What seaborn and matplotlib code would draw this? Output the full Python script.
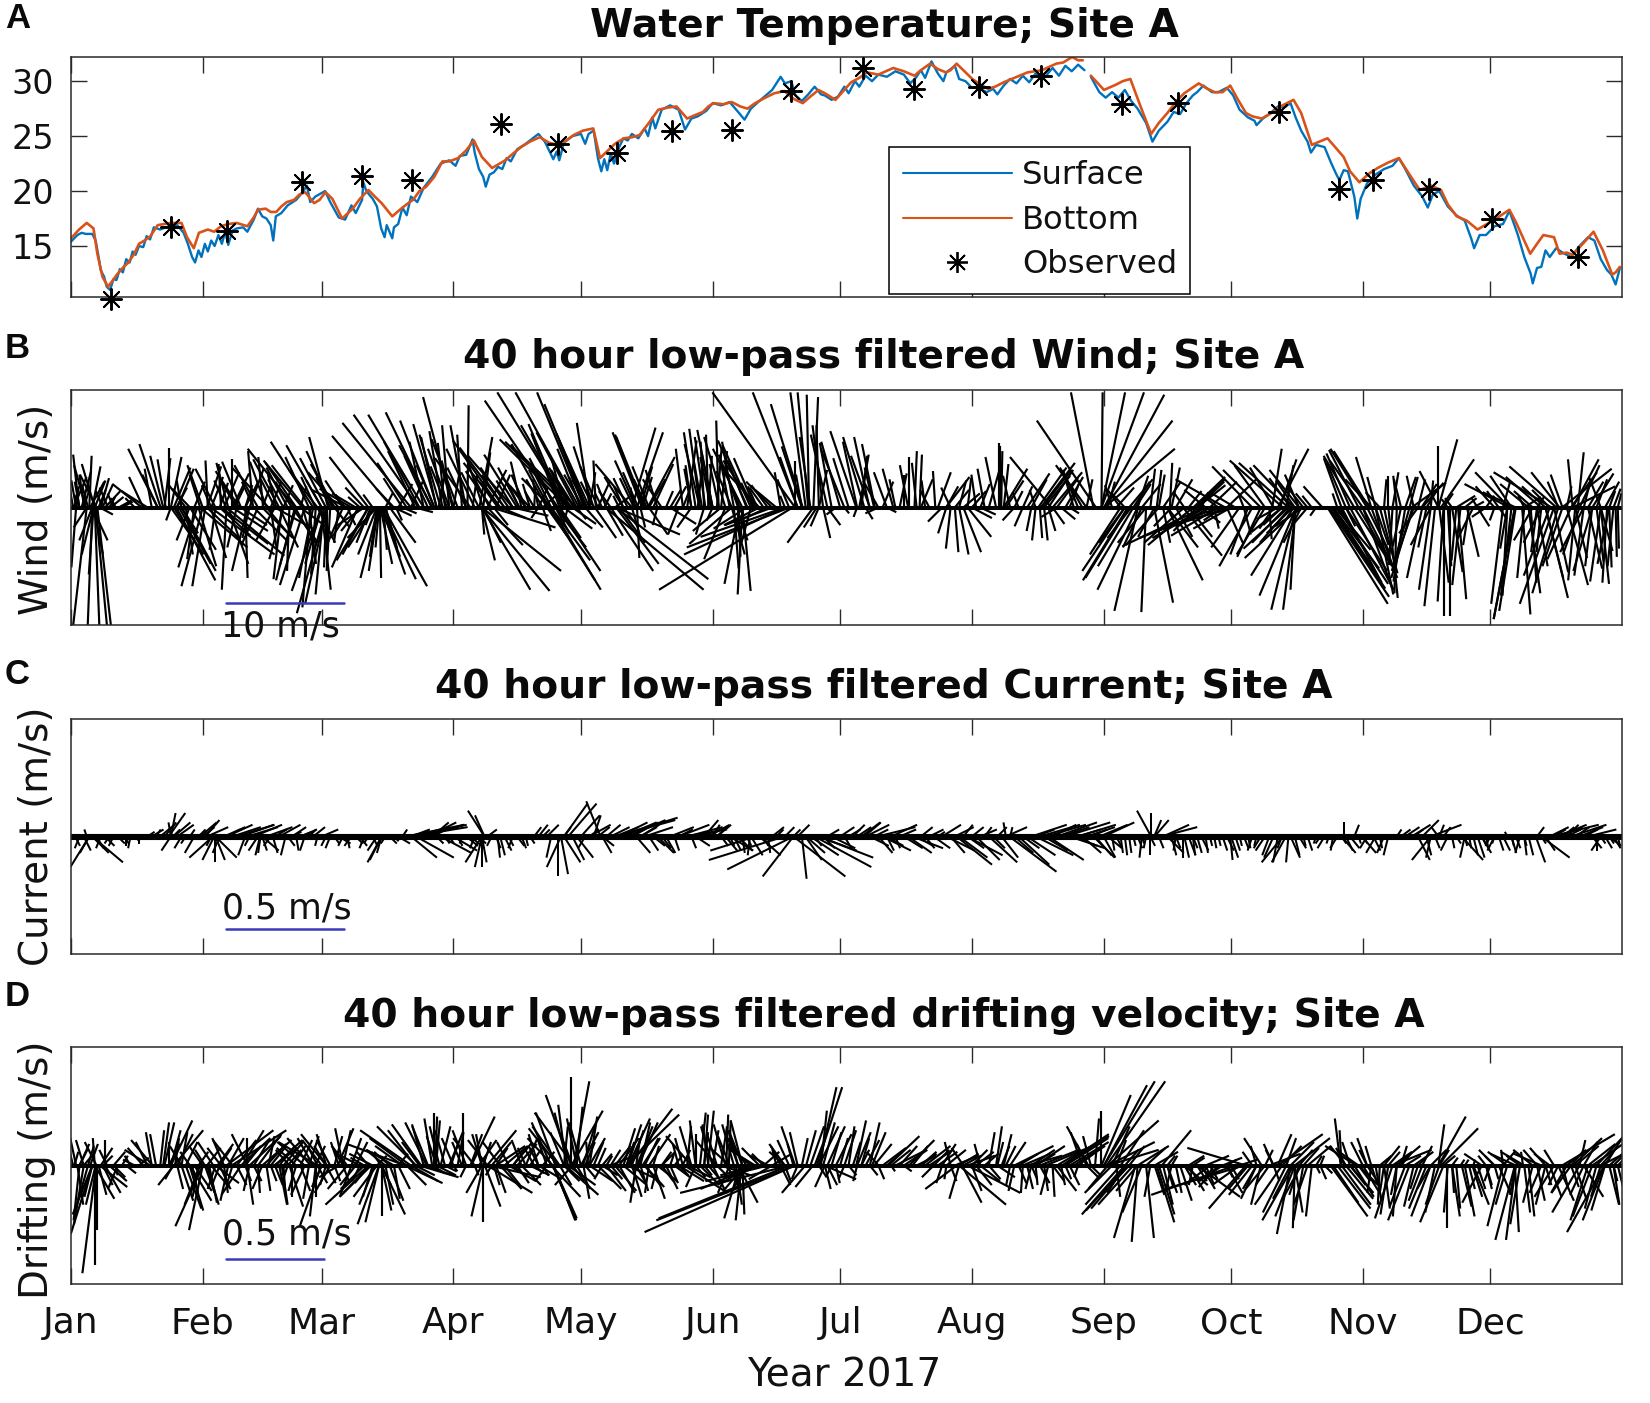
import numpy as np
import pandas as pd
import matplotlib
matplotlib.use("Agg")
import matplotlib.pyplot as plt
from matplotlib.collections import LineCollection
from matplotlib.lines import Line2D
import seaborn as sns

month_ticks = [0, 31, 59, 90, 120, 151, 181, 212, 243, 273, 304, 334]
month_labels = ["Jan", "Feb", "Mar", "Apr", "May", "Jun", "Jul", "Aug", "Sep", "Oct", "Nov", "Dec"]

bottom_day = [0,1.9,3.7,5.3,6.2,7.4,8.7,9.9,12.4,14.9,17.3,20.4,23.5,26,27.3,28.9,30.1,32.2,35.3,39,41.5,44,45.8,48.3,50.8,55.1,57.2,59.9,63.8,66.3,70,73.1,75.6,77.4,80.5,83.6,87.4,91.1,94.8,96.7,99.1,102.2,105.9,110.3,114.6,118.3,122.9,124.5,126.4,130.1,133.8,138.2,142.5,145,148.7,151.2,155.5,159.2,162.9,167.9,172.2,175.9,
              177.4,179.9,183.6,187.3,193.5,198.5,202.2,205.9,208.4,212.1,215.8,219.5,225.1,231.9,235.6,238.1,
              240,243.1,249.3,251.7,254.2,258,260.4,265.4,269.1,272.8,276.5,280.2,284.6,287.7,289.5,292,295.7,299.5,303.2,307.5,312.5,317.4,322.4,326.1,331,338.5,343.4,346.5,349,350.3,353.4,358.3,362.7,364.5]
bottom_temp = [15.7,16.5,17.1,16.6,14.3,12.2,11.3,11.9,13.1,14.3,15.5,16.9,17.1,17.1,15.8,14.8,16.2,16.5,16.8,17.1,16.8,18.3,18.4,18.1,19,19.9,18.9,19.9,17.5,18.4,20.1,18.9,17.7,18.3,19.2,20.4,22.7,23,24.6,23.1,22.1,22.8,24,24.9,24.2,25.1,25.7,23,23.7,24.8,25.1,27.4,27.7,26.6,27.2,28,28.1,27.5,28.4,29.1,28,29.2,
               28.9,28.3,29.9,30.8,31.2,30.5,31.6,30.8,31.6,30.2,29.3,29.9,30.8,31.6,32.2,31.9,
               30.5,29.2,30.2,27.7,25.2,27.1,28.3,29.8,29,29.6,27.1,26.6,27.7,28.3,27.1,24.2,24.8,23.1,20.8,22.1,23,20.1,20.1,17.7,16.5,18.3,14.3,16,15.8,14.3,14.2,16.3,12.4,13.1]
bottom_day += [10.8,13.5,16,18.7,33.7,37,43,47,49.5,52.5,53.8,58.5,61.5,68,71.5,79,82,85.5,89,93,104,108,112.5,116.5,120.5,128,132,136,140.5,146.8,150,153.5,157.5,161,165.5,170,174,181.5,185.5,190,196,200,204,207,210,214,217.5,222,228.5,233.5,237,246,247.5,256,262,267,271,274.5,278,282.5,293.8,297.5,301,305.5,310,315,320,324,328.5,335,340,345,352,356,360.5,363.5]
bottom_temp += [12.4,13.5,15.2,15.9,16.3,17,17.6,18.1,18.6,19.2,19.7,19.2,19.3,19.3,19.5,18.8,20,21.3,22.7,23.7,23.4,24.5,24.4,24.6,25.5,24.3,24.9,26.2,27.6,26.9,27.7,27.9,27.7,28,28.9,28.4,28.6,29,30.3,30.6,30.9,31,31.1,31,31,29.7,29.5,30.3,31,31.7,31.9,29.7,30,26.2,28.9,29.4,29,28.4,26.8,27.1,24.5,24,21.8,21.6,22.6,21.5,20.5,18.8,17.3,17.4,17.2,15.2,14.4,15.3,14.6,12.6]
surface_day = [0,1.5,2.5,3.5,5,5.8,6.5,7,7.8,8.4,9.2,10,10.7,11.5,12.2,13,13.8,14.5,15.2,16,17,17.8,18.6,19.5,21,23,25,26.5,27.5,28.5,29.2,30,30.7,31.5,32.2,33,33.8,34.7,35.5,36.3,37,38,39,40.5,41.5,43,44,45,46,47,47.6,48.2,49.5,51,53,54.5,55.5,56.3,57.5,59.8,61,63,64.5,66,67,68.5,68.8,69.5,71,72,73,73.8,74.3,75.6,76,77,78,79,80,81.5,83,85,87,89,90.5,91.5,93,94.5,95,96,97,97.6,98.5,99.5,100.5,101.5,102.5,103.5,105,107,110,111.5,112.5,113.5,114.3,114.9,116,118,120,121,121.8,123,124,124.8,125.5,126.2,127,127.8,129,130,131,132,133.5,135,135.8,136.8,137.5,139,141,143,144.5,146,147.5,149.5,151,153,155,157,158.5,160,162,165,167,168,169.5,170.5,172,173.5,175,176.5,
               177.4,179,180.5,182,183,184.5,185.5,187,188.5,190,192,194,196,197.5,198.8,200,201,202.5,204,205.3,206,208,209,210.5,212,213.5,215.5,217,218,219.5,221,222.5,224,225.5,227,229,231,232.5,234,235.5,237,238.5,
               240,242,243.5,245,246.5,248,249.5,251,253,254.5,256,258,259.5,261,262.5,264,265,266.5,268.5,270,272,273.5,275,277,278.5,279,280.5,282,284,285.5,287,288.2,289.5,291,291.8,293,295,296.5,297.8,298.5,299.5,300.5,302,302.7,303.5,305,307,309,311,312.5,314,316,318,319.3,320.5,322,324,326,328,329.5,330.2,331.5,333,335,337,338.5,340.5,342,343.5,344,345,346,347,348,349.5,351,353,355,357,358.5,360,361.5,362.5,363.5,364.5]
surface_temp = [15.4,16,16.2,16.1,16.1,15.5,14,12.8,12.2,11.3,11,12,11.9,12.9,12.6,13.8,13.5,14.5,14.2,15,14.9,15.9,15.6,16.7,16.5,16.8,16.9,16.2,15.2,14,13.5,14.6,14,15.2,14.5,15.5,15,16,15.2,16.3,15.1,16.4,16.6,16.7,16.3,17.4,18.4,17.7,17.5,16.9,15.5,17.7,18,18.7,19.2,19.9,20.5,19,19.5,20,19,17.6,17.4,18.7,18,19.2,20.8,20,19.3,18.6,16.6,15.8,16.9,15.7,16.7,17,18.5,17.8,19.5,19,20.3,21.3,22.5,22.8,22.3,23.2,23.3,24.7,23.5,22,21.3,20.4,21.5,21.7,22.2,22,23,22.7,23.8,24.3,25.2,24.5,23.7,22.9,23.6,22.8,24.4,25,25.2,24.3,25.2,25.5,23,21.8,22.9,21.9,23.4,22.5,24,24.8,24.6,25.2,24.8,25.7,25,26.7,25.7,27.4,27.8,27.4,25.6,26.6,26.8,27.3,28,27.8,28.1,27.2,26.5,27.5,28.2,29.2,30.4,29.8,30,28.7,28.2,28.8,29.5,28.8,
                28.7,28.3,28.6,29.5,28.9,30,29.5,30.5,30,30.6,30.4,30.9,30.6,29.8,30.3,31,30.3,31.8,30.7,30,30.8,31.4,30.2,30,29.4,29.4,29,29.3,28.8,29.6,30.2,29.8,30.5,29.9,30.7,30.3,31.2,30.5,31.4,30.9,31.5,31,
                30.4,29,28.5,29,28.5,29.2,28.2,27.5,26.2,24.5,25.5,26.3,27.2,27,28,28.7,29,29.6,29,29,29.4,28.7,27.4,26.7,26.4,26,26.6,27,27.7,27.6,28,26.7,25.5,24.5,23.5,24.2,24,22.6,21.5,21,21.9,21.8,19.5,17.5,19.3,20.7,21.5,22,22.3,23,22,20.5,19.5,18.5,19.7,20,18.6,17.8,17.3,15.7,14.8,16,16,16.8,17,18.2,16,14,12.5,11.6,13,13.1,14.6,14,14.8,14.4,14,15,15.8,15.5,13.8,12.8,12.4,11.5,13]
obs_day = [9.3,23.5,36.6,54.3,68.5,80.3,101.2,114.6,128.6,141.5,155.5,169.4,186.3,198.5,213.6,228.2,247.4,260.4,284.3,298.5,306.3,319.5,334.5,354.6]
obs_temp = [10.2,16.7,16.4,20.8,21.4,21,26.1,24.3,23.5,25.5,25.6,29.1,31.2,29.3,29.5,30.5,27.9,28,27.2,20.2,21,20.2,17.5,14]

wind_day, wind_u, wind_v = [], [], []
current_day, current_u, current_v = [], [], []
drift_day, drift_u, drift_v = [], [], []

def wind(d, u, v):
    n = min(len(d), len(u), len(v))
    wind_day.extend(d[:n]); wind_u.extend(u[:n]); wind_v.extend(v[:n])

def current(d, u, v):
    n = min(len(d), len(u), len(v))
    current_day.extend(d[:n]); current_u.extend(u[:n]); current_v.extend(v[:n])

def drift(d, u, v):
    n = min(len(d), len(u), len(v))
    drift_day.extend(d[:n]); drift_u.extend(u[:n]); drift_v.extend(v[:n])

wind([1.9,4.3,5.6,3.1,5,1.2,5.6,7.4,9.3,.6,8.7,11.2,1.9],
     [-.5,.2,-1.1,-.4,.7,-.4,.9,.9,1.1,1.1,-.7,1.1,-.4],
     [4.5,4.4,3.7,2.8,3.5,2.3,2.3,2,.9,2.6,1.7,.6,1.1])
wind([1.2,3.7,5,5.6,5.8,6.2,5,3.7,5,5.3,5.3,5.3,6.8],
     [-.4,-1.2,-.4,.4,1,1.2,-1.1,-1.1,1.3,-.4,.8,-1,1.1],
     [-5.1,-10.5,-10.5,-10.5,-10.5,-10.5,-2.8,-1.7,-2.8,-5.7,-4,-4,-.6])
wind([20.4,21.1,21.7,16.7,18,22.3,23,23.5,24.2,20.4,26,24.8],
     [-2.5,-1.8,-1.1,-2.5,-2.2,-.7,0,.9,1.4,-1.3,-.4,.9],
     [5,5.4,4.4,2,1.4,4.1,5.1,4.3,3.4,2.8,2.3,1.7])
wind([23.5,29.7,31,27.9,31.6,24.8,26,25.4,24.2,23.5,36.6,41,41.5,32.9,32.9,36.6,35.3,30.4],
     [-.4,-1.6,-1.8,-1.1,-1.1,3.3,2.9,2.7,2.5,2,-.4,.2,-1.3,1.3,5.4,4.9,4,4],
     [-1.1,-5.1,-6.7,-2.8,-6.7,-6.2,-5.4,-4.8,-4,-2.8,-7,-6,-5.4,-4.3,-4,-4.1,-3.1,-3.4])
wind([49.6,60.1,60.1,59.5,58.9,56.4,58.9,52.7,51.4,57.6,60.1,60.3,52.7,70,70,71.3,67.5,45,48,54],
     [-.7,-2.5,-1.8,-.7,-2.5,-.7,.8,-1.6,-.2,-.4,-.2,0,1.8,-2.7,-2.2,-2.2,-2.2,2.6,3.2,2.4],
     [-6.1,-9,-8.2,-7.4,-7.1,-8.5,-7,-6.2,-5.4,-5.7,-5.1,-4,-3.1,-4.5,-4,-3.4,-5.1,-2.6,-1.8,-1.8])
wind([30.4,32.2,35.3,37.8,39.6,42.8,45.2,46.5,48.3,52.7,54.5,57,59,60.5,61.5,62,64,33,36,41,50,66],
     [-.9,-.2,-.2,0,-2,-.4,-.4,-3.1,-.7,-4,-3.3,-3.6,-3,-1.6,-2.2,-2,-1.5,1,1.3,1.1,-1.3,-2.7],
     [2.8,4,3.7,4.1,3.1,4.8,4.3,3.4,2.8,5,4,5.6,5.3,6,4.8,3.7,2.3,2.6,3,2.2,2.4,1.6])
wind([72.3,72.3,72.7,72.8,73.1,73.1,73.5,72,72,73,74,72,76,78,81],
     [-1.5,-.8,.1,1,2,2.9,3.7,-1.6,-.6,1.6,.8,-2.5,1.5,1.2,1.5],
     [-6,-5.4,-6,-4.8,-5.7,-6.1,-6.7,-4,-4.2,-4.2,-2.8,-2.6,-.7,-.5,-.4])
wind([75.6,80,81.8,83,84.9,85.5,86.1,89.8,70,92.9,87.4,93.3,101,102,104,96.1],
     [-5.1,-5.8,-5.5,-4.7,-3.9,-2.9,-2,-2.5,-3.3,-1.3,-1.1,.1,-4,-3.8,-3.8,1.1],
     [6.1,7.2,7.9,7.9,8.1,7.4,7.1,9.4,4.3,7,6.5,8.7,5.7,5.1,4.4,6])
wind([97,88,86,89,90,84,78,80,98,100,105.5,107,108,109,110,111],
     [.6,-.6,-1.3,-1.8,-1,-2,-1.6,1,1.6,1.2,-1.8,-1.2,-.6,.1,.8,1.1],
     [4.7,5.5,6,5,4,4.4,2.5,2.2,3.2,2.8,3.4,2.8,2,1.8,1.7,1])
wind([96.7,96.7,96.7,96.7,99,113,96.5,114.6,113,114,112.5,97,121,116],
     [4.1,6.7,1.1,.2,5.4,4.2,5.8,3.6,3.3,2.6,3.9,1.5,1.5,2.4],
     [-7,-5.4,-4.5,-2.3,-1.7,-7,-7.1,-5.4,-4.5,-3.4,-6.2,-3,-1.7,-1.8])
wind([114.6,117,119.6,120.8,121.4,117,118,119,122.1,121,114,116,118.5,120,122,123.5,124,125.5,113,123],
     [-6.2,-6,-5.4,-4,-3.6,-5.8,-5.7,-5.6,-1.1,-2.2,-2.2,-1,-2,-1,.5,-.2,1,.6,-2.5,-1.7],
     [9.1,9.8,9.8,9.8,8.8,5.8,5.6,5.3,7.2,5.7,4.2,4,3.2,2.6,3,4,2.2,1.2,2.5,5.2])
wind([132,134.4,134.7,135,132,133.2,135.7,132.5,148,150,152.4,159.2,160,170.4,171,172.2,172.9,173.5,173.7,174.7],
     [-3.1,-2.5,-2.4,-2.4,2,2.2,2.3,-.3,-.9,-.2,-.2,-2.5,-2.4,-7,-3.8,-2.7,-1.3,-.9,-.2,.4],
     [3.7,6.4,6.2,6,6.8,6.4,4.3,1.7,6.7,6.2,7.4,5.7,5.3,9.8,9.8,8.8,9.8,9.8,9.6,9.4])
wind([148,149.3,150.6,157.4,161,165,170.4,172,128,130,136,138,141,144,146,153,155,163,167,176],
     [-1.3,-.9,-.9,-1.8,-2.7,-2.2,0,-.5,1.5,-1.6,1.4,-1,.9,.5,-.6,.5,-.7,-1.2,-.5,.7],
     [5.4,6,4.3,4.5,4,2.2,4,2.8,1.1,2.6,2.4,3.2,1.5,1.3,3.3,4.8,3.6,1.7,3,3.2])
wind([125.8,128.3,128.3,169.8,169.1,167.9,167.9,158,158,157.4,174.7,128.3,123.3,127,133.2,155.5,155.5,143,175.5,156.7],
     [8.3,7.8,3.6,-11.3,-8.7,-8.5,-7.1,-.4,.7,-1.3,-2.2,5.4,1.8,3.6,.2,-3.6,1.1,-.9,-1.1,.9],
     [-7,-6.1,-4.8,-7,-3.4,-4,-2.5,-7.4,-7.1,-6.5,-3,-2.3,-2.6,-5.4,-4.3,-3.1,-4,-2.3,-1.7,-2.8])
wind([184.8,186.7,187.9,189.2,185.5,186,193.5,196,197.2,198.5,199.7,203.4,204,205.9,217.7,218.3,218.6,218.9,219.5,230.7,219.5,228.2,227.6,228.5,229,241.2],
     [-2.2,-1.8,-1.3,-1.1,.8,.5,-.9,0,0,.2,.2,-.2,1.1,2,-.9,0,0,.1,.4,-3.5,2,2.9,2.4,2.5,2.2,-5],
     [6.5,6,6,5.4,4.5,4.4,3.3,2.8,4.3,4.8,4.5,3.1,3,2.6,4.3,5.5,5.2,4.8,3.7,4.3,3.3,3.8,3.4,3.2,2.7,7.4])
wind([240.6,242.5,242.5,242.5,243.1,243.1,243.1,239,247,250,258.6,255.5,250.5,271.6,264.1,264.6,265,285.2,286.5,287.7,289,282.7,284,294.5,305,305.5,306,310,315,320,315.5],
     [-1.9,.1,2,3.6,5.1,5.8,6,.5,-1.1,1.4,.2,.4,1.3,-4.2,2.7,2.5,2.3,-4.5,-4.2,-3.4,-2.5,.8,2.6,-1.6,-3.1,-3,-1.3,0,.7,.2,2.9],
     [9.8,9.8,9.8,9.8,9.6,7.4,5,2.4,1.5,2.2,3.8,3.2,2,2.4,2.6,2.4,2.2,4,3.8,3.6,3.2,5,5,1.8,5,4.8,4.3,2.7,2.6,2.3,2.1])
wind([321.8,321.8,321.8,322.4,338.5,338.5,339,348.4,349.6,350.3,351,353.4,354.6,353.4,350.9,353.4,325,330,342,345,360,362,357,317.8],
     [-1.6,0,1.6,2.8,-3.8,-2.9,-1.8,-4.9,-4,-2.4,-1,-.4,.5,2.2,4.2,3.6,-.6,.9,-.5,.6,-1,.5,1.3,1.3],
     [3.1,5.2,5.8,4.1,2,3,2.7,3,3.5,3,2.8,4.1,4.7,4.1,3.3,1.8,.8,.5,1,.9,2.6,1.4,2.2,2])
wind([248.7,249,248,251,251.1,253,254.9,258,266.6,270,272.5,274,261.7,258,286.5,287.7,288.3,288.3,288.3,288.1,289],
     [-3.8,-3.7,-3.6,-3.4,-2,-.4,1.6,3,-6.9,-6.7,-6.4,-6,3.3,2.6,-3.8,-3.6,-3.1,-2.1,-1.1,-.4,-4.6],
     [-6.2,-6,-5.4,-7,-8.8,-8.9,-8.1,-6.2,-3.3,-2.6,-2.1,-1.6,-4.1,-3.4,-3.5,-5.8,-7.5,-8.7,-8.7,-7,-4.3])
wind([295.7,296,296.5,297,297.5,298.5,300,315.7,315,314,312,310,307,304,318,321,323,324.5,326.4,328.5,326,320,330],
     [5.1,5.1,4.6,3.9,3,1.5,.8,-1.8,-1.5,-1,-.2,.8,1.5,2.5,-1.3,-.9,0,0,.7,1,-.4,-1.7,-1.4],
     [-8.2,-7.6,-6.9,-5.2,-3.6,-2.4,-1.6,-6,-5.4,-6.3,-7.3,-7.7,-7.4,-6.9,-6,-8.4,-9.2,-9.2,-7.8,-4.2,-4.5,-3.2,-2.8])
wind([339.8,339.8,340,341.5,339,338,337,343,345,347,349,350,354,360,361.5,360,362,363.5,358,356,343.5,346],
     [-1.8,-1.8,-1.4,.7,-.9,-.4,-1,1,-.5,1.9,-2.9,-2.2,-.6,-.9,-.4,.7,.2,.1,-.6,-2,.5,-.4],
     [-9.5,-9.5,-8.8,-9.1,-7.5,-7.5,-8.2,-7.3,-3.8,-7.7,-8.2,-7.3,-6.2,-6.3,-6.4,-6.5,-5.1,-4.2,-5,-3.8,-6.4,-3.8])
wind([.5,2.5,3.5,4.5,6,7,8,10,12,15,17,19,22,25,27],
     [-.6,.8,-1,1.2,-1.4,.7,1.3,-.5,.9,-.8,-1.2,-.6,.5,1.4,-1.5],
     [3.4,3.1,3.6,2.2,2.8,2.5,1.4,1.2,.5,.8,2.6,3.3,4.2,3.3,2])
wind([28,29,31,32,34,37,38,40,42,44,46,47,49,51,53],
     [-1.5,.9,-1.3,1.2,-1.7,-1,1.4,-1.6,1.2,-2,-1.4,.9,-2.2,-1.8,-2.6],
     [1.6,2.2,3.6,3.5,3.3,3.8,2.9,3.9,3.3,3.6,3.9,2.2,4.1,3.4,3.8])
wind([55,56,58,60,61,63,65,67,68,69,71,74,76,77,79],
     [-2.8,-2,-2.4,-2.2,-1.2,-2.6,-3,-2,-1,-1.6,-.8,.6,-1.5,1.2,-2.5],
     [3.6,4.3,3.2,4.2,2.6,3,1.5,1.2,.9,1.7,1.1,1.2,1.6,2,3.8])
wind([81,82,83,85,87,89,91,92,94,95,97,99,101,103,105],
     [-2.3,-3,-1.2,-2.8,-1.8,-.6,-2.2,-.4,-3,-2.4,-1.4,-2.2,-3.1,-2.4,-2.8],
     [4.8,5.6,5.6,5.3,6.2,7,5.8,6.2,4.2,5,4.2,3.1,3.8,3.4,4.5])
wind([106,108,110,112,113,115,116,117,119,120,122,124,126,127,129],
     [-.9,-2.4,-.5,-3,-1.6,-2.4,-3,-4,-3.4,-2,-2.8,-1.5,-.8,-1,-.5],
     [3.9,2.6,2.4,5.4,3.3,6.3,7.1,7,6.4,5,6.3,3.5,2,1.4,1])
wind([131,133,134,136,137,139,140,142,144,145,147,149,151,152,154],
     [-1.2,-1.8,1,-1.4,1.7,-1.6,.6,1,-.6,.8,-1,-.3,-1.3,.4,-1.8],
     [2.5,4,3.5,3.5,3.7,2.4,1.4,1.8,5,5.7,6.4,5.6,6.6,5.1,6])
wind([156,158,159,161,162,164,166,168,169,171,172,174,176,177,178,179],
     [-1,-2.5,-1.6,-1.8,-2.8,-1.4,-1.8,-.4,-1,-1.5,-1.7,-.9,-.2,-.9,-1.4,-1],
     [5.6,5,4,4.2,3,1.9,1.5,1,2.4,4.3,5.2,6,7,7,6.2,5.5])
wind([181,182,183,185,188,189,190,191,192,194,195,197,199,200,201],
     [-1.6,-2,-1.3,-1.2,-1.6,-.8,-1.3,.9,-1.1,-.5,.6,-.7,-.4,1,-.3],
     [5.6,5,4.2,5.6,4.4,3.4,2.3,2.2,3,2.4,2.9,3.6,3.8,2.4,2.3])
wind([202,206,207,208,209,210,211,212,213,214,215,216,220,221,222],
     [-.8,1,-.8,1.2,.6,1.4,.3,1.2,-.4,.8,-.6,.9,1.5,-.6,.7],
     [1.5,1.8,1.7,1.5,2.3,1.2,2.5,1.4,2.8,2,3.3,3.2,2.3,2.7,1.4])
wind([223,224,225,226,227,230,231,232,234,235,236,237,238,239,244],
     [-.5,.8,1.9,1.3,-.5,2.1,2.5,1.8,1.5,.9,-.8,-1.3,-1.9,-2.6,.6],
     [1.3,1.8,2.9,2.4,1.5,3.2,3,2.5,2.6,2.3,2.7,3.2,3.4,3.6,2.2])
wind([245,246,248,249,251,252,254,256,257,259,260,262,263,265,266],
     [-.6,1.5,-1.2,2,.9,1.6,.4,.5,1.5,.7,1.4,-.9,1.1,2.4,.6],
     [1.9,1.7,1.3,2.4,2.7,2,3.3,2.8,2.2,3.4,2.4,1.3,1.4,1.9,1.3])
wind([267,268,270,272,274,276,278,280,281,283,284.5,286,287,288,289,290,291,292],
     [-1.8,2.3,-1.2,2.6,-2,-.4,-3.4,-3.2,-2.6,-2,1.4,.6,-1.8,-1.6,-1.2,-1.4,-1,-.8],
     [1.5,2.2,.9,2.5,1.2,1,3.5,3.2,3.6,3.4,4.1,3.6,2.5,2.3,2.8,1.8,1.2,1])
wind([298,299,300,301,302,303,304,306,307,308,309,311,312,313,314,316,317,318,319],
     [-.4,-1.5,-1.6,-2,-2.6,-2.5,-2.8,-2.2,-.7,-1.2,.2,.5,-.3,-.6,.9,-.6,.6,1.8,.9],
     [1.2,4.2,3.8,4.6,4.4,4.9,4,2.4,2.6,1.3,2.4,3,2.7,2.4,2.6,2.7,2.4,2.1,1.5])
wind([323,324,326,328,331,333,335,336,337,340,342,343,344,346,347,348,350,352,353,355,356,358,359,361,363,364],
     [.8,-.5,1.6,1,-.5,.7,-1.6,-1,.6,-2.8,1.4,-2.4,-1.6,-3,-2,-1.5,-.9,.4,2.2,1.7,.6,1.8,.9,1.2,.6,.3],
     [1.2,.7,1,.8,.8,1,1.8,1.4,2.2,1.3,.9,2,1.4,2.6,1.8,1.5,2.2,1.8,3,3.6,2.4,2.9,2.4,2.2,1.6,1.2])
wind([26,27,28,29,30,32,34,35,37,38,39,40,42,43,44,46,47,48],
     [1.4,.6,2.2,-.6,1.5,2.7,-.5,2.6,1.7,3,-.8,2.2,-.6,2.8,-1.4,2,.5,-1.6],
     [-2.2,-4,-3.6,-4.4,-5,-2.6,-3.6,-2.4,-4.8,-2,-3.4,-1.5,-2.6,-2.8,-3.2,-2.4,-3.5,-2.8])
wind([49,50,52,53,54.5,55,56,57,58,59,61,62,63,64,65,66,68,69],
     [1.6,-1.2,2.2,-1.4,1,-2.1,.6,-1.2,1.5,-1.4,-.3,1.3,-.4,-1.5,.7,-1.7,-1.6,-2.4],
     [-3.4,-4.4,-3,-5,-3.6,-6.6,-4.8,-6,-3,-4.8,-5.4,-1.7,-3,-3.5,-1.5,-2.6,-2,-1.6])
wind([70.5,71,72.5,73.5,74,75,76.5,98,99.5,101,104,110,111,112,114,115,117,118,119],
     [-1.2,-.6,-.3,.3,1,2.2,.5,3,1.2,2.2,3,-.6,.7,1.7,1.2,1.8,-.5,2,.8],
     [-3,-1.5,-3.4,-3.6,-3.5,-3,-1.1,-3.2,-1.5,-.9,-.7,-.9,-2,-2.4,-2.2,-2.6,-1.6,-1.4,-1])
wind([126,129,130,132,134,136,138,141,146,149,151,153,154,156,157,159,160,162,164,165],
     [1.4,2.2,1.2,.8,.4,1.6,-.4,2.2,-1.2,-.7,-.5,-2.4,-1.8,.4,.2,-2.8,-.8,-3,-2.6,-4],
     [-2.4,-3,-1.6,-2.8,-1.7,-2.3,-1.5,-1.4,-1.7,-2.3,-1.1,-2,-4.4,-5.2,-4.2,-1.8,-3,-1.5,-1.2,-1.5])
wind([176,177,178,180,182,185,187,190,192,205,206,207,208,209,210,211,212,214],
     [-.7,.6,1.1,-.8,.4,-.3,.6,-1.1,.8,-1.2,-.7,-.4,.3,.8,1.5,2,1.7,1.3],
     [-1.6,-2.6,-1.5,-.6,-.5,-.8,-1,-.5,-.4,-1.2,-2.2,-3.5,-3.8,-4,-3.8,-2.5,-.9,-.6])
wind([222,224,226,227,228,229,230,231,232,233,235],
     [-1,-.7,-.4,-.3,.2,.3,.6,1,-1.3,1.2,.8],
     [-1.1,-1.6,-2,-2.8,-2.6,-2.8,-2,-1.4,-.8,-1,-.5])
wind([247,248,249.5,250,252,253,255,256,257,259,260,262,263,264,265,266,267,268,269,270,271,272,273,275,276,277,278,280,281,282,283,285,287],
     [-2.6,-2.2,-2,-3,-1.6,-2.4,-1.4,-2.8,.6,-1.5,1.4,-3.4,2,-3.8,-2,1.6,-4.5,-2.8,.4,-4,-1.6,1.4,-3.2,-2.4,.6,-1.5,-2.8,-2,-2.4,.2,-1.2,-1.6,-2.6],
     [-4,-3,-2.6,-5,-3.4,-3,-2.5,-3.2,-3,-1.6,-2.5,-3,-2.5,-3.2,-2,-1.3,-2.6,-1.6,-1.8,-2.4,-1.1,-3.1,-1.8,-3.4,-2.3,-4,-5,-4.2,-4,-2.7,-1.8,-1.5,-3])
wind([284,285,286,287.5,289.5,290,291,293,297,298,299,300,301,302,303,304,305,306,307,308,309,311,313,316,317],
     [-1.8,-2.6,-2.9,-2.2,-1.5,-2.4,-1.1,-.5,3.6,4.3,3.4,3.5,3.7,3.2,2.3,2.8,1.9,2.2,1.1,1.5,.6,-.3,-.7,-1.2,-1.6],
     [-1,-2.1,-3,-2.2,-3,-1.6,-1.3,-.7,-5.5,-6.5,-6.4,-5.4,-7,-5,-4,-5.5,-3.8,-6,-3.2,-5.6,-2.9,-4.9,-3.3,-3.5,-2.2])
wind([319,320,322,323,324,325,327,329,331,333,335,336,338,342,344,345,346,347,348,349,351,352,353,354,355,356,357,358,359,360,362,363,364],
     [-.7,-1,.8,-.5,.3,.9,-.7,-.5,1,-1.2,-.4,.7,-.6,-.6,-1.6,.9,-1.5,1.5,-2.2,1.2,-1.7,1.8,-2,1,-1.4,-.8,1.2,-1.6,.6,1,-1,-.5,.1],
     [-3.4,-7,-6.4,-8,-5,-5.5,-6.6,-3.2,-1.6,-.8,-1.1,-1,-3.5,-6,-2.8,-5,-3,-6,-5.8,-5.5,-5,-6.6,-4.4,-4.3,-4,-5.8,-5.2,-5.4,-4.6,-3.7,-4.8,-5,-3.5])
wind([1,2,3,4,6.5,7.5,9,10.5,33,35,36.5,38.5,39,41,43,45,48,50,52,54,57.5],
     [.3,-.4,.5,-.5,.6,-.6,.5,-.4,-.8,.7,-1,.8,-1.2,.6,-1,.7,-1.2,.8,-1.4,.5,-1.2],
     [1.8,2.2,1.6,1.9,1.5,1.4,.9,.8,1.9,2.1,2.3,1.7,2,1.9,2.2,1.8,2.4,1.9,2.2,1.8,2.6])
wind([59,62,64.5,85.5,86.5,88.5,90,93,94.5,96,98.5,100.5,102,104,105.5,107,109,111,112.5,114,115.5],
     [-1.3,-1.1,-.8,-1.5,.6,-1.4,.5,-1.6,.4,-1.5,-1.3,-1.6,-1.9,-1.4,-1,-1.3,-.8,-1.4,-1.7,-1.2,-1.5],
     [2.3,1.9,1.1,3.6,3.1,3.5,2.9,3.4,2.8,3,2.5,2.2,2.8,2.3,2.1,1.8,1.4,2.4,3.2,2.4,3.6])
wind([117.5,118.5,120.5,121.5,123,125,130,132.5,133.5,134.5,135.5,146,147.5,148.5,150,151,152.5,155.5,157,160.5,161.5],
     [-1.8,-2.2,-1.6,-1.3,-1.1,-.6,-.8,-1.2,-1.3,.8,-1.1,-.5,.4,-.7,.3,-.9,-.8,-1.3,-1.1,-1,-.8],
     [3.4,3,2.8,2.4,2.2,1.2,1.8,2.5,3,2.6,2.4,3.6,3.8,4,4.4,4.5,3.7,3.1,3.2,2.1,1.8])

current([4.3,4.3,5,5,3.7,13,16,23,23.5,23.5,23.5,24.2,30.4,31.6,33.4,33.7,34,34,34,36.6,39,41.5],
        [-.08,-.04,.13,.07,-.01,0,0,.07,.02,-.04,-.01,.07,.07,.06,-.1,-.05,0,.04,.09,.11,.16,.13],
        [-.13,-.07,-.11,-.07,.03,-.04,-.03,.1,.1,-.06,.06,.06,.06,.07,-.09,-.1,-.11,-.1,-.09,.05,.05,.04])
current([44,44.6,45,45,47,52,54,60,64,68,73.1,73.1,73.1,80,81.2,85,78.7,80,97.3,97.3,98,96.7,96.7,96.7,96.7],
        [-.04,-.01,.02,.07,-.03,.04,.05,-.02,-.02,.03,-.06,-.05,-.02,.11,.16,.07,.25,.24,-.07,-.04,.04,-.07,-.03,0,.02],
        [-.06,-.07,-.06,-.06,-.04,.02,.02,-.04,-.04,-.04,-.11,-.1,-.07,-.09,-.09,.06,.05,.04,.11,.09,.03,-.11,-.13,-.13,-.11])
current([100.4,105,114.6,115.3,115.3,116,124.6,117,116,120,123,122,124,125,128.3,128.3,132,134,143,144.4,152,155,157,140],
        [.01,.03,0,-.06,.03,.07,-.06,.12,.1,.08,.03,.09,.05,.04,.26,.25,.11,.08,.13,.18,.06,.1,.06,.04],
        [-.09,-.04,-.17,-.13,-.16,-.11,.15,.14,.14,.09,.09,.05,.04,-.07,.08,.07,.06,.05,.05,.03,.05,-.06,-.06,-.07])
current([167.9,170,170,172,161,159.8,172.8,170,175,176,176,186.7,185,189.8,192,204,208.4,210.9,220,221,220.8,227,229.4,236.8],
        [-.32,-.28,-.13,.02,-.19,-.01,.07,.22,.24,.23,.16,.07,.06,.16,.03,.03,.15,.15,-.01,.01,.2,.16,.17,.1],
        [-.1,-.14,-.17,-.18,-.06,-.08,-.1,-.17,-.13,-.09,-.06,.06,.04,.04,-.06,.02,-.12,-.08,.06,.04,-.15,-.08,.05,.03])
current([240.6,254.2,254.2,254.9,243,256.7,252,254,261.7,260,264,272.8,285.2,285.9,286.5,287,299,299.5,303.8,320,320,320,321.8,327.3],
        [.09,-.06,0,.03,.13,.15,-.01,0,0,-.01,.01,.01,-.09,-.06,-.01,.04,.06,0,.06,-.08,-.02,.13,-.03,.09],
        [-.09,.11,.1,.07,.06,.04,-.09,-.08,-.09,-.06,-.08,-.1,-.11,-.11,-.11,-.09,-.07,.06,-.07,-.1,-.09,.05,.04,-.1])
current([328,332,335,339,342,344.7,346,345,348.4,349.6,359,352,356,362,360],
        [-.02,.04,-.03,.02,.01,.04,.12,.03,.2,.11,0,.05,.07,.05,-.04],
        [-.09,-.07,-.06,-.07,-.08,-.11,-.09,.04,.05,.04,-.06,.05,.04,-.04,-.06])
current([1,2,3,6,7,8,10,11,14,15,18,19,21,22,25,26,28,29,31,32],
        [.02,-.02,.03,.03,-.02,.04,-.02,.03,-.01,.02,.03,.05,.06,.05,.07,-.03,.02,-.04,.05,.09],
        [-.04,-.05,-.06,-.05,-.05,-.04,-.04,-.03,-.05,-.02,.02,.03,.05,.06,.05,-.05,.03,-.07,.04,.04])
current([35,36,38,40,41,43,44.5,46,47.5,49,50.5,52,53,54,55,57,59,61,63,65],
        [-.03,.09,.12,.14,-.03,.12,-.02,.11,.02,.09,-.02,.06,.01,.07,-.02,.05,.07,-.02,.05,.01],
        [-.07,.04,.04,.05,-.08,.05,-.08,.04,-.07,.05,-.08,.04,-.06,.03,-.06,.04,.03,-.05,-.03,-.05])
current([66,67,69,71,72,74,75,77,78,79,81,82,83,84,86,87,89,90,91,93],
        [-.03,.03,-.02,.02,-.04,-.02,.03,.05,.02,.18,.14,.2,.17,.12,.03,.13,.02,.1,.02,.05],
        [-.04,-.03,-.05,-.04,-.06,-.03,-.03,-.03,.03,.03,.04,.05,.05,.06,-.03,-.07,-.03,-.06,-.04,-.04])
current([94,95,99,101,102,104,106,107,109,110,112,113,118,119,121,126,127,129,130,131],
        [.06,-.02,-.02,.02,.03,-.02,.02,.01,.03,.04,.05,-.02,.05,.07,-.03,.06,.08,.12,.14,.16],
        [-.05,-.05,-.04,-.08,-.06,-.05,-.05,-.04,.04,.05,.05,-.09,-.1,-.09,-.05,.05,.04,.06,.06,.07])
current([133,135,136,138,139,141,142,145,146,148,149,150,151,153,154,156,158,160,162,164],
        [.06,.12,.04,.07,.04,.1,.02,.15,.02,.12,.06,.09,.03,.03,.05,.03,.01,.05,.09,.01],
        [-.07,.04,-.06,-.07,-.05,.04,-.06,.04,-.05,.04,.07,.05,.05,-.04,-.06,-.06,-.07,-.08,-.08,-.07])
current([165,168,171,173,174,177,179,181,182,184,186,187,188,190,191,193,194,196,197,198,200,201,203,205,206,207],
        [.05,.04,.05,.08,.12,.05,.1,.06,.03,.05,.08,.1,.08,.06,.12,.11,.02,.08,.1,.13,.05,.04,.07,.08,.12,.06],
        [.04,.04,.05,-.07,-.08,-.05,-.05,.04,-.05,.05,.06,.05,-.04,-.07,-.06,.05,-.05,-.05,-.07,-.05,.04,-.05,-.05,.05,-.06,-.07])
current([209,210,212,213,215,216,218,219,222,223,225,226,228,230,231,232,234,235,237,238,239,241,242,243,245],
        [.12,.04,.05,.1,.03,.12,.04,.07,.08,.13,.12,.15,.17,.15,.1,.17,.19,.15,.16,.08,.12,.07,.12,.05,.01],
        [-.09,.05,.04,-.1,.04,-.11,.04,-.09,-.07,-.12,-.08,.05,.05,-.1,.05,.06,.06,-.05,.05,-.07,.04,-.08,.05,-.09,-.06])
current([247,248,249,251,253,255,257,258,259,262,263,265,266,267,269,271,272,273,274,276,277,278,280,281,282,283,284,288,289,291],
        [.01,.01,.01,.02,-.01,.06,.11,.07,.02,.02,.03,.02,.03,.01,.01,.02,.03,.03,.02,.02,.01,-.02,-.03,-.04,-.03,-.04,-.02,.02,.03,.02],
        [-.07,-.08,-.07,-.05,-.05,.07,.05,-.07,-.08,-.09,-.08,-.07,-.06,-.07,-.05,-.06,-.06,-.09,-.06,-.05,-.05,-.06,-.05,-.06,-.08,-.09,-.11,-.08,-.05,-.06])
current([294,295,297,298,300,301,302,304,305,306.5,307,309,310,313,314,315.5,317,318,319,322,323,324,325,326],
        [-.02,-.03,-.01,-.03,.03,.04,.02,.02,-.03,.03,-.04,-.03,-.02,.04,.06,.08,.05,.07,.02,.02,.03,-.03,.01,.02],
        [-.03,-.05,-.06,-.05,-.06,-.05,.05,-.03,-.05,-.06,-.07,-.07,-.08,.03,.04,.05,-.1,.07,-.08,.05,.04,-.06,-.05,-.03])
current([329,330,331,333,334,336,337,338,340,341,343,347,348,350,351,353,354,355,357,358,361,363,364],
        [.01,.02,.03,.01,-.02,.02,.03,-.01,.02,-.02,.02,.04,.08,.12,.05,.15,.06,.1,.12,.04,.03,.03,.01],
        [-.05,-.08,-.09,-.05,-.04,-.06,-.06,.02,-.05,-.07,-.08,-.06,.04,.05,.04,.05,.04,.04,.03,-.05,-.05,-.05,-.04])
current([5.5,9,12.5,20,24,27,30,33,37,42,48,51,56,58,62,70,76,80,85,88,92,96,100],
        [.02,-.02,.02,.02,.03,-.02,.03,-.02,.05,-.02,.05,.03,.03,-.01,.02,-.02,.02,.08,.06,.02,-.01,.03,.02],
        [-.03,-.03,-.03,.03,.03,-.03,.03,-.04,.03,-.04,.03,-.04,.03,-.04,-.03,-.03,-.02,.03,.03,-.03,-.03,-.03,-.05])
current([103,108,111,116,122,125,128,134,137,143,147,152,155,159,163,166,170,175,178,183,189,192,195],
        [.02,.02,.03,.03,.04,.05,.1,.07,.05,.06,.06,.03,.02,.02,.02,.03,.03,.03,.05,.05,.06,.07,.07],
        [-.04,-.03,.03,.04,.03,-.04,.04,.04,-.04,.03,-.04,.03,-.04,-.04,-.04,.03,.03,-.04,.03,.03,.03,-.04,.03])
current([199,202,208,211,214,217,220,224,227,229,233,236,240,244,246,250,252,254,256,260,264,268,270],
        [.07,.06,.08,.07,.07,.05,.09,.07,.08,.1,.12,.1,.07,.06,.02,.01,.01,.02,.02,.02,.02,.01,.01],
        [-.04,.03,.04,-.05,.03,-.05,.04,-.05,.03,-.06,.04,-.04,.03,-.05,-.04,-.04,-.03,-.04,-.05,-.05,-.05,-.04,-.04])
current([275,279,285,290,293,296,299,303,308,312,316,321,328,332,335,339,342,346,349,352,356,360,362],
        [.01,-.01,-.02,.01,-.01,-.01,.02,.01,.01,.02,.04,.02,.01,.02,-.01,.01,.01,.02,.05,.06,.06,.02,.02],
        [-.04,-.04,-.05,-.04,-.03,-.03,-.03,-.03,-.05,.03,.03,-.05,-.04,-.04,-.03,-.04,-.04,-.03,.03,.03,.03,-.03,-.03])

drift([1.2,5.6,8,2,.8,4,5.9,5.6,6.2,5,5,5.6,6.8,10.5,3,7.5,1.5,5],
      [-.03,-.01,0,.04,.02,.03,-.07,0,0,-.11,-.04,.1,.14,.01,.05,.05,.03,-.1],
      [.14,.14,.13,.08,.07,.1,-.55,-.51,-.33,-.35,-.16,-.17,-.11,-.05,.06,.05,-.2,-.25])
drift([19.2,19,18.6,21.7,23.5,24.2,23.5,24.2,31,31,27.9,30.4,23,24.5,26,28.5,32.5,34],
      [-.11,-.03,-.13,.03,.11,.15,.05,-.08,-.14,-.07,.07,-.08,0,.02,-.06,.03,.04,-.04],
      [.13,.17,.08,.22,.23,.18,.18,-.1,-.31,-.33,-.23,-.2,.12,.14,.1,-.14,-.19,-.12])
drift([35.3,41.5,40.3,37.8,36.6,41.5,46.5,47.8,41.5,40,35,58,56.4,60.1,60.1,64,64,62.8,51.4,57.5],
      [-.07,-.08,.11,.28,.24,0,.03,.12,.03,-.1,.05,-.2,-.12,-.13,-.05,-.04,.04,.08,-.07,.05],
      [.09,.16,.18,.18,.18,.14,.15,.09,-.2,-.15,-.11,.12,.14,.16,.16,.19,.18,.19,.08,.1])
drift([58.9,57.6,57.6,52,49,70,70.6,72.5,72.5,73.1,73.1,73.1,71,49.6,51.4,44,38],
      [-.11,-.03,0,0,.04,-.22,-.16,-.11,-.07,0,.12,.05,-.05,.03,.07,.01,-.03],
      [-.31,-.26,-.16,-.16,-.2,-.2,-.16,-.3,-.29,-.26,-.25,-.23,-.16,-.2,-.21,-.14,-.1])
drift([80,78.7,81.2,82.4,83.7,85.5,85.7,85.9,86.7,92.3,96.7,94.2,97.9,96.7,89.4,100,104,107,110],
      [-.26,-.3,-.2,-.15,-.11,0,.01,.02,-.05,0,-.05,.12,.15,-.03,.04,.15,.1,.06,-.05],
      [.18,.11,.2,.21,.22,.27,.25,.23,.2,.27,.16,.25,.18,.16,.12,.1,.12,.14,.16])
drift([78.7,82,96.7,97,97,97.4,98,98.6,113.4,113.5,113.6,113.4,116.3,113,120.6,124,112,118],
      [.19,.2,-.08,0,-.06,.08,.23,.26,.12,.12,.11,.09,.17,.15,.03,.12,-.06,-.09],
      [-.09,-.06,-.14,-.29,-.26,-.21,-.14,-.06,-.28,-.27,-.28,-.21,-.15,-.16,-.17,-.12,-.08,-.1])
drift([117.7,118.3,117.7,118.3,116.5,117.8,113.4,114.6,120,122,116,119,120,121.7],
      [0,.08,-.13,-.2,-.04,.16,-.13,-.15,.09,.04,.02,.03,-.06,-.01],
      [.45,.43,.36,.27,.31,.28,.14,.19,.17,.25,.2,.3,.22,.12])
drift([130.7,131.4,133.2,134.5,131,131.2,130.7,130,127,133,125,128,133,135,138],
      [.27,.22,.08,.09,.07,.11,.04,.06,.12,.02,-.04,.11,-.03,.1,-.03],
      [.26,.29,.2,.14,.21,.24,.12,.19,.05,.14,-.07,-.13,-.19,-.11,-.12])
drift([148,149.9,154.2,154.8,147,143.9,170.4,168,162,152,151,146,157,158,163,165,155],
      [.03,.03,.01,.01,0,.04,-.07,-.08,-.09,-.11,-.06,-.13,-.05,-.06,.08,.1,-.1],
      [.27,.28,.26,.23,.16,.08,.2,.11,.09,.13,.2,.15,.18,.23,.07,.06,.09])
drift([170.4,170.4,169.1,169.1,144.4,157.4,157.8,158,172.8,174.6,157,151,147,158.5,161,164,143,156.5],
      [-.77,-.71,-.67,-.56,.22,-.08,-.03,.01,-.12,-.09,.1,.07,-.05,-.1,-.28,-.32,.13,.03],
      [-.34,-.28,-.27,-.14,-.14,-.27,-.28,-.25,-.14,-.11,-.19,-.14,-.11,-.12,-.12,-.08,-.08,-.2])
drift([175.5,176,176.5,184.8,188,188.5,192.3,197.2,207,210,217.7,219.5,222,233.2,233.7,234,229.4,239.4,242.5],
      [.13,.09,.03,.05,.05,.07,.16,.13,-.03,-.06,.03,.04,.2,.24,.23,.22,.24,-.11,0],
      [.4,.4,.28,.23,.22,.17,.15,.13,.12,.09,.2,.16,.1,.16,.15,.14,.1,.2,.28])
drift([242.5,243.1,243.1,243.7,244,244,256.7,244,276.5,280.2,284,284,282,198,200,202,212,215,186,190],
      [.15,.22,.26,.3,.26,.26,.15,.24,-.3,-.09,.07,.23,.16,.08,.08,.12,.08,.07,.04,-.06],
      [.36,.41,.43,.43,.23,.08,.18,.12,.09,.14,.16,.16,.06,.1,.07,.08,.08,.06,.08,.07])
drift([298.8,302.5,305,310,313,311,321.8,321.8,322.4,332,337,337,350.9,353.4,355,360,345,340,341.7],
      [-.03,-.16,-.05,.06,.03,.2,.03,.14,.19,-.09,-.01,.06,.27,.15,.03,.12,-.07,-.13,-.01],
      [.24,.1,.14,.07,.1,.08,.21,.25,.19,.06,.08,.07,.16,.14,.13,.06,.08,.06,.07])
drift([177.4,177.4,177.4,190,208.4,209,209.7,209,211,230,231,232,248,248.5,248.8,250.5,251,253,255.5,258],
      [-.05,.03,.16,.03,-.16,-.05,.1,.24,.27,-.04,.01,.1,-.22,-.21,-.19,-.11,-.03,.04,.09,.05],
      [-.11,-.12,-.07,-.07,-.12,-.17,-.19,-.2,-.14,-.15,-.16,-.13,-.25,-.23,-.22,-.37,-.39,-.37,-.29,-.14])
drift([274,276,276.5,272,265,270,268,262,287.7,287,288,288,289.5,296.4,297,315,314,316,312,309],
      [-.43,-.4,-.19,.08,.22,-.1,-.13,.12,-.16,-.07,-.01,.04,-.1,.19,.13,-.11,-.08,-.05,-.02,.03],
      [-.15,-.12,-.22,-.14,-.16,-.11,-.1,-.1,-.28,-.35,-.32,-.24,-.18,-.26,-.19,-.28,-.21,-.21,-.26,-.22])
drift([323,323.8,325,327.3,329.8,320,333,339.8,340,339.8,337,343,347,360.8,360.8,361,363,353,356,350,332,336],
      [-.12,0,.04,.05,.05,-.07,.03,-.1,-.05,.02,-.08,.03,-.05,-.19,-.11,-.07,.03,-.1,.1,.08,-.1,.06],
      [-.29,-.32,-.26,-.21,-.16,-.12,-.12,-.38,-.38,-.34,-.31,-.26,-.2,-.34,-.28,-.23,-.2,-.14,-.16,-.18,-.19,-.14])
drift([.5,2,3,4.5,6,7,8.5,10,11,13,15,16,17,18,20,21,22,25,26,27],
      [-.03,.05,-.04,.04,-.06,.06,-.04,.06,-.05,.05,-.06,.05,-.08,-.06,-.03,.02,.05,.08,.03,.06],
      [.12,.11,.13,.11,.12,.09,.08,.07,-.12,-.04,.03,.04,.09,.12,.16,.18,.22,.16,.17,.12])
drift([28,30,31,32,33.5,34.5,36,37,38,39,40,42,43,44,45,46,48,49,50,52],
      [-.05,.05,-.07,.07,-.08,.08,-.06,.08,-.1,.1,.15,.16,.08,.12,.15,.1,.14,.08,.1,.07],
      [.07,.07,.1,.09,.12,.11,.14,.14,.13,.13,.14,.15,.13,.16,.13,.11,.13,.1,.12,.1])
drift([53,54,55,56,57,59,61,62,63,65,66,67,68,69,71,72,74,76,77,78],
      [-.1,.06,-.14,.05,-.08,-.1,-.07,.04,-.04,-.08,.05,.06,-.1,-.07,-.12,.05,-.1,-.14,.05,-.14],
      [.09,.13,.12,.15,.14,.13,.13,.15,.12,.1,.14,.12,.05,.04,.06,.05,.08,.08,.06,.1])
drift([79,81,83,84,85,87,88,89,90,91,93,94,95,96,98,99,101,102,103,105,106,108,109,111,112],
      [-.19,-.14,-.06,-.08,-.04,.05,-.05,.07,-.06,.03,-.07,.06,-.11,.09,-.1,.1,-.09,.12,-.06,.1,-.05,.07,-.05,.06,-.05],
      [.14,.18,.21,.2,.24,.2,.18,.17,.14,.17,.18,.16,.14,.13,.13,.12,.12,.1,.12,.11,.13,.1,.09,.07,.14])
drift([113,114,115,117,119,120.5,122,123,125,126,128,129,132,133.5,134,136,137,139,141,142,144,145],
      [-.1,-.1,-.14,-.07,-.05,.06,.08,.05,.05,.03,.08,.1,.06,.1,.05,.11,.03,.07,.02,.04,-.04,.02],
      [.22,.27,.2,.27,.24,.2,.14,.12,.06,.05,.1,.14,.18,.22,.22,.16,.1,.07,.06,.05,.14,.2])
drift([146,147,149,150,151,153,154,156,158,159,160,161,164,166,167,168,169,171,172,173,174,176],
      [-.06,-.03,.02,-.03,.03,.03,-.06,-.06,-.07,-.1,-.12,-.13,-.09,-.02,-.05,-.08,-.06,-.04,.03,.05,.07,.1],
      [.2,.23,.26,.21,.18,.2,.21,.21,.18,.14,.1,.08,.05,.08,.1,.07,.13,.17,.14,.18,.2,.2])
drift([177,178,179,180,181,182,183,185,186,187,189,191,193,194,195,196,199,201,203,204,205,206],
      [.06,.09,.05,.08,.04,.06,.03,.07,.04,.07,.09,.12,.1,.14,.09,.12,.1,.13,.08,.1,.07,.1],
      [.22,.2,.17,.16,.14,.18,.2,.17,.14,.13,.11,.09,.08,.07,.1,.08,.05,.1,.08,.07,.11,.08])
drift([208,209,211,213,214,216,218,220,221,223,224,225,226,227,228,235,236,237,238,240,241],
      [.12,.1,.14,.09,-.03,.03,.03,.05,.08,.1,.14,.18,.12,.15,.2,.2,.16,.12,-.06,-.04,.02],
      [.05,.06,.05,.07,.11,.17,.12,.1,.12,.06,.06,.05,.08,.1,.08,.12,.1,.09,.17,.15,.24])
drift([245,246,247,249,251,253,255,259,263,267,271,275,278,279,281,283,285,286,287,288,290,291,294,299,300,301,303,304,306],
      [.09,.05,.12,.08,.16,.1,.12,.03,.08,.12,.1,.09,-.05,-.03,.04,-.05,.1,.05,.12,.18,.08,.12,.02,-.01,-.08,-.04,-.1,-.06,-.03],
      [.2,.13,.18,.1,.1,.09,.07,.05,.05,.05,.04,.03,.07,.1,.08,.11,.1,.14,.12,.14,.09,.1,.05,.18,.1,.12,.07,.12,.1])
drift([308,309,311,312,314,316,318,320,323,325,328,330,333,335,338,342,344,346,347,349,352,354,356,357,358,359,361,362,363],
      [.06,.08,.1,.12,.08,.1,.05,.08,.06,.03,.02,.01,-.04,-.08,-.1,-.12,-.1,-.14,-.08,-.05,.1,.12,.07,.14,.2,.14,.1,.16,.12],
      [.05,.1,.07,.1,.05,.07,.1,.08,.05,.04,.03,.03,.05,.08,.07,.07,.08,.06,.09,.08,.08,.1,.12,.11,.14,.15,.16,.14,.12])
drift([2,3,4,5.8,6.5,7.5,8,9,24,25,26,27,28,29,30,32,33,34,36,37,39,42,43,45,46],
      [-.03,-.05,-.07,-.05,.04,.05,.08,.09,-.04,.03,.06,.08,.11,.09,-.03,.06,.1,.12,.02,-.04,.05,-.03,.04,-.05,.02],
      [-.28,-.3,-.25,-.2,-.15,-.1,-.14,-.08,-.07,-.12,-.18,-.22,-.18,-.13,-.16,-.2,-.12,-.09,-.14,-.18,-.1,-.13,-.08,-.12,-.13])
drift([48,50,53,54,55,56,59,60,61,62,63,65,66,67,68,69],
      [.04,.01,-.04,.05,-.07,-.03,-.05,.05,-.08,.03,-.1,-.1,-.06,-.08,-.04,-.12],
      [-.1,-.15,-.13,-.13,-.15,-.17,-.11,-.09,-.14,-.08,-.06,-.12,-.16,-.1,-.08,-.12])
drift([70.5,71.5,72,74,75,76,77,79,80,81,83,84,85,86,88,90,93,95,99,100,101,102,103,105,106,108,110,111],
      [-.14,-.08,-.12,.04,.07,.03,.06,.1,.14,.1,.15,.09,.05,.1,.06,.02,-.03,.02,-.03,.05,.11,.08,.14,.06,.1,.1,.12,.03],
      [-.14,-.2,-.16,-.2,-.18,-.17,-.12,-.1,-.08,-.05,-.05,-.04,-.03,-.05,-.03,-.03,-.06,-.05,-.05,-.14,-.12,-.1,-.08,-.09,-.1,-.05,-.07,-.05])
drift([115,117,119,122,125,126,129,130,131,132,134,135,136,137,138,140,141,142,145,148,150,152,153],
      [.06,.14,.07,.12,.08,.1,.08,.12,.15,.05,.04,.08,-.02,.06,.1,.06,.04,.08,.12,.1,.05,.08,.15],
      [-.1,-.1,-.12,-.08,-.05,-.13,-.14,-.1,-.07,-.16,-.13,-.1,-.14,-.17,-.08,-.12,-.09,-.06,-.06,-.1,-.06,-.08,-.05])
drift([154,155,156,159,160,161,162,165,167,168,171,176],
      [.1,-.06,.03,-.08,-.15,-.1,-.2,-.12,.05,.03,-.03,.04],
      [-.12,-.14,-.15,-.14,-.09,-.06,-.05,-.07,-.1,-.08,-.07,-.06])
drift([178,179,180,182,183,185,188,193,196,203,205,206,207,212,213,214,216,218,221,222,223,224,225,226,227,228,229,231,233,234,235,237,239],
      [.05,-.03,.02,-.03,.04,-.02,.04,.02,.04,-.06,-.03,-.01,.03,.05,.08,.1,.06,.09,-.02,-.03,.04,-.01,.03,-.03,.01,.05,.02,.06,.02,.03,.05,-.02,.06],
      [-.1,-.06,-.09,-.07,-.05,-.08,-.05,-.03,-.03,-.06,-.09,-.07,-.08,-.13,-.1,-.08,-.07,-.06,-.1,-.13,-.09,-.14,-.12,-.12,-.1,-.09,-.13,-.08,-.1,-.07,-.1,-.06,-.06])
drift([244,245,246,247,249,250,252,254,256,257,259,260,261,263,264,266,267,269,271,273,275,277,278,279,280,281,283,285,286,288,290,291,292,294,295],
      [-.1,-.14,.02,-.18,-.15,-.18,-.1,-.03,.08,.05,-.03,.03,.06,.08,-.02,.07,.04,-.05,-.12,.04,-.14,-.1,-.12,-.08,-.05,-.1,.03,-.14,-.12,-.1,-.05,-.07,-.03,.03,.04],
      [-.12,-.14,-.16,-.2,-.16,-.2,-.24,-.16,-.25,-.2,-.13,-.14,-.18,-.13,-.1,-.12,-.09,-.08,-.08,-.07,-.1,-.12,-.15,-.17,-.2,-.12,-.08,-.2,-.24,-.26,-.28,-.2,-.26,-.07,-.04])
drift([298,299,300,301,302,303,304,305,306,307,308,310,311,318,319,320,321,322,324,326,328,330],
      [.17,.15,.14,.12,.1,.1,.08,.06,-.02,.03,-.01,-.04,-.09,-.07,-.09,-.1,-.05,-.07,-.02,.02,.05,.08],
      [-.22,-.2,-.17,-.14,-.16,-.1,-.13,-.09,-.14,-.18,-.2,-.25,-.27,-.18,-.22,-.26,-.24,-.2,-.24,-.22,-.26,-.2])
drift([331,333,334,335,338,341,342,344,345,346,348,349,351,352,354,355,357,358,359,362,364],
      [.04,.03,-.03,.02,-.06,-.05,.03,-.05,.04,-.06,.06,-.1,.03,-.08,.06,-.14,-.09,-.1,-.06,.05,.03],
      [-.12,-.1,-.08,-.07,-.2,-.3,-.24,-.19,-.18,-.14,-.16,-.16,-.12,-.14,-.18,-.24,-.28,-.26,-.22,-.2,-.12])
drift([12,14,23,31.5,35,41,47,51,58,60,64,70,73,75,82,86,92,97,100,104,107],
      [.03,-.03,.06,-.05,.06,.08,.08,.07,-.05,-.06,-.05,-.06,-.05,-.08,-.09,-.05,-.05,.04,.06,.06,-.04],
      [.05,.05,.11,.08,.09,.1,.1,.08,.1,.1,.09,.07,.07,.07,.12,.15,.12,.12,.09,.08,.09])
drift([110,116,118,121,124,127,135,139,143,149,152,155,157,163,170,175,184,192,200,210,219],
      [-.05,-.07,-.06,.05,.04,.05,.07,.05,-.03,.02,-.05,-.06,-.05,-.06,-.03,.05,.04,.08,.08,.09,.04],
      [.1,.17,.16,.12,.09,.08,.14,.07,.11,.17,.16,.15,.14,.06,.11,.13,.12,.07,.06,.05,.1])
drift([227,232,239,248,258,264,272,283,289,293,300,305,313,317,322,327,335,341,348,353,360,364],
      [.1,.12,-.05,.07,.04,.06,.05,-.04,.07,.03,-.05,-.04,.05,.06,.05,.02,-.05,-.07,-.08,.06,.09,.1],
      [.06,.07,.11,.08,.05,.04,.03,.08,.08,.05,.09,.08,.06,.06,.08,.03,.05,.05,.06,.07,.1,.1])
drift([10,31.5,35,41,47,51,58,60,64,70,73,99.5,104,109,116,118,121,127,133,139,143,147,149],
      [.06,.05,-.04,.03,.03,-.03,.05,-.03,.03,-.07,.05,.03,.07,.05,.08,.06,.05,.06,.05,.06,.05,.05,.04],
      [-.06,-.14,-.1,-.08,-.08,-.09,-.09,-.1,-.08,-.09,-.1,-.1,-.06,-.04,-.08,-.08,-.06,-.07,-.09,-.08,-.05,-.06,-.05])
drift([226,240,248,251,255,258,262,265,268,272,279,282,287,289,293,301,303,306,309,312,317,325,329,340,347,350,353,356,360,363],
      [.03,.05,-.09,-.11,.05,.03,.06,.05,.04,.03,-.07,-.07,-.09,-.05,.02,.08,.06,.03,-.02,-.03,-.04,.01,.03,-.03,.03,-.05,.04,-.07,-.05,.02],
      [-.07,-.05,-.14,-.13,-.15,-.11,-.1,-.08,-.07,-.06,-.12,-.1,-.17,-.15,-.04,-.1,-.08,-.09,-.13,-.15,-.12,-.14,-.12,-.15,-.1,-.1,-.11,-.15,-.16,-.08])

sns.set_theme(style="ticks")
plt.rcParams["font.family"] = ["DejaVu Sans"]
plt.rcParams["axes.edgecolor"] = "#2a2a2a"
plt.rcParams["axes.linewidth"] = 1.1
INK = "#111111"
W, H = 1650, 1403
X0, X1 = 71, 1622
DAY_SPAN = 365.0

fig = plt.figure(figsize=(W / 100, H / 100), dpi=100, facecolor="white")

def make_axes(top, bottom, ylim):
    ax = fig.add_axes([X0 / W, 1 - bottom / H, (X1 - X0) / W, (bottom - top) / H])
    ax.set_xlim(0, DAY_SPAN)
    ax.set_ylim(*ylim)
    ax.set_xticks(month_ticks)
    ax.set_xticklabels([])
    ax.tick_params(axis="x", direction="in", length=11.5, width=1, color="#2a2a2a", top=True, bottom=True)
    ax.set_yticks([])
    for s in ax.spines.values():
        s.set_visible(True)
    return ax

def sticks(ax, day, u, v, days_per_unit, lw, base_lw):
    d = np.asarray(day, float)
    tips_x = d + np.asarray(u, float) * days_per_unit
    tips_y = np.asarray(v, float)
    zero = np.zeros(len(d))
    segs = np.stack([np.column_stack([d, zero]), np.column_stack([tips_x, tips_y])], axis=1)
    ax.add_collection(LineCollection(segs, colors="black", linewidths=lw, capstyle="butt"))
    ax.axhline(0, color="black", lw=base_lw, zorder=2, solid_capstyle="butt")

def scale_bar(ax, start, length, y, label, label_x, label_y):
    sns.lineplot(x=[start, start + length], y=[y, y], ax=ax, color="#3b3bb8", lw=1.8,
                 errorbar=None, estimator=None, sort=False, legend=False)
    ax.text(label_x, label_y, label, ha="center", va="center",
            fontsize=25, color=INK, clip_on=False, zorder=6)

# Panel A
axA = make_axes(57, 297, (10.36, 32.2))
axA.set_yticks([15, 20, 25, 30])
axA.tick_params(axis="y", direction="in", length=11.5, width=1, color="#2a2a2a", left=True, right=True,
                labelsize=24, labelcolor=INK, pad=12)
for days, temps, colour, width in [(surface_day, surface_temp, "#0072BD", 1.7),
                                   (bottom_day, bottom_temp, "#D95319", 1.9)]:
    frame = pd.DataFrame({"day": days, "temp": temps}).sort_values("day")
    for part in (frame[frame.day < 239.5], frame[frame.day >= 239.5]):
        sns.lineplot(data=part, x="day", y="temp", ax=axA, color=colour, lw=width, errorbar=None,
                     estimator=None, sort=False, legend=False)
sns.scatterplot(x=obs_day, y=obs_temp, ax=axA, marker=(8, 2, 0), s=230, color="black", linewidth=1.4,
                clip_on=False, zorder=5, legend=False)
axA.set_xlabel("")
axA.set_ylabel("")
handles = [Line2D([], [], color="#0072BD", lw=1.5), Line2D([], [], color="#D95319", lw=1.5),
           Line2D([], [], color="black", marker=(8, 2, 0), markersize=15, markeredgewidth=1.3, ls="none")]
leg = axA.legend(handles, ["Surface", "Bottom", "Observed"], loc="lower left",
                 bbox_to_anchor=((889 - X0) / (X1 - X0), 3 / 240), borderaxespad=0, fontsize=23.2,
                 handlelength=3.4, handletextpad=0.3, labelspacing=0.42, borderpad=0.42,
                 fancybox=False, framealpha=1, edgecolor="black", labelcolor=INK)
leg.get_frame().set_linewidth(1.1)
leg.set_zorder(10)

# Panel B
axB = make_axes(390, 625, (-10, 10))
sticks(axB, wind_day, wind_u, wind_v, 27.8 / 10, 1.55, 2.9)
scale_bar(axB, 36.5, 27.8, -8.1, "10 m/s", 49.3, -10.1)
axB.set_ylabel("Wind (m/s)", fontsize=28, color=INK, visible=True)
axB.yaxis.set_label_coords((56 - X0) / (X1 - X0), 0.49)

# Panel C
axC = make_axes(719, 954, (-0.5, 0.5))
sticks(axC, current_day, current_u, current_v, 27.8 / 0.5, 1.45, 4.4)
scale_bar(axC, 36.5, 27.8, -0.395, "0.5 m/s", 50.7, -0.305)
axC.set_ylabel("Current (m/s)", fontsize=28, color=INK, visible=True)
axC.yaxis.set_label_coords((56 - X0) / (X1 - X0), 0.5)

# Panel D
axD = make_axes(1047, 1284, (-0.605, 0.605))
sticks(axD, drift_day, drift_u, drift_v, 23.0 / 0.5, 1.55, 2.9)
scale_bar(axD, 36.5, 23.0, -0.477, "0.5 m/s", 50.7, -0.353)
axD.set_ylabel("Drifting (m/s)", fontsize=28, color=INK, visible=True)
axD.yaxis.set_label_coords((56 - X0) / (X1 - X0), 0.48)
axD.set_xticklabels(month_labels, fontsize=26, color=INK)
axD.tick_params(axis="x", pad=16)
axD.set_xlabel("Year 2017", fontsize=28, color=INK)
axD.xaxis.set_label_coords((844 - X0) / (X1 - X0), -0.305)

# Titles and panel letters
titles = ["Water Temperature; Site A", "40 hour low-pass filtered Wind; Site A",
          "40 hour low-pass filtered Current; Site A", "40 hour low-pass filtered drifting velocity; Site A"]
title_y = [26, 357, 687, 1016]
letters = ["A", "B", "C", "D"]
letter_y = [18, 348, 675, 997]
for t, y in zip(titles, title_y):
    fig.text(884 / W, 1 - y / H, t, ha="center", va="center", fontsize=28.3, fontweight="bold", color="#0a0a0a")
for t, y in zip(letters, letter_y):
    fig.text(5 / W, 1 - y / H, t, ha="left", va="center", fontsize=25, fontweight="bold",
             family="Liberation Sans", color="#0a0a0a")

fig.savefig("out.png", dpi=100, facecolor="white")
